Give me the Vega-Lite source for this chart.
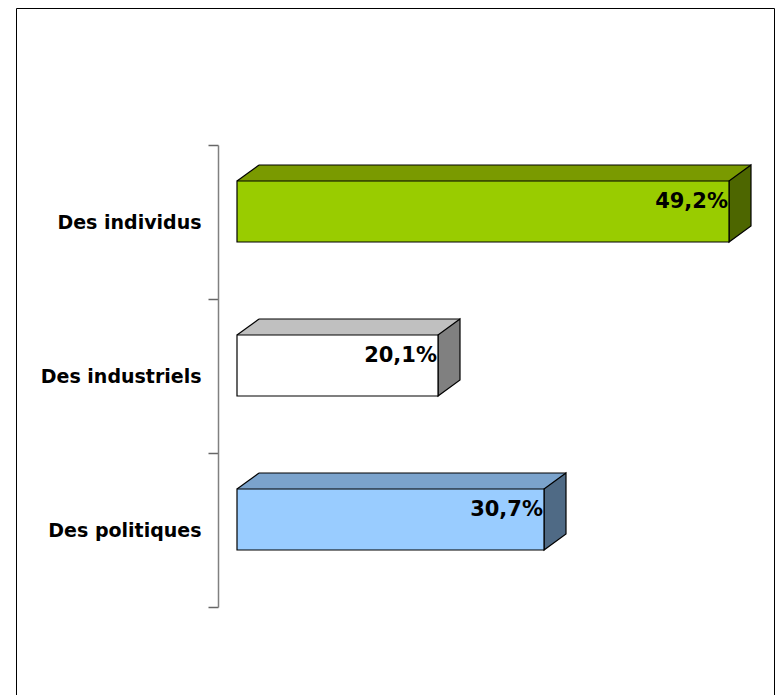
{
  "$schema": "https://vega.github.io/schema/vega-lite/v6.json",
  "width": 758,
  "height": 690,
  "autosize": {"type": "none"},
  "padding": {"left": 16, "top": 8, "right": 4, "bottom": 0},
  "background": "white",
  "config": {
    "view": {"stroke": "black", "strokeWidth": 1},
    "font": "DejaVu Sans"
  },
  "data": {
    "values": [
      {"cat": "Des individus", "value": 49.2, "label": "49,2%"},
      {"cat": "Des industriels", "value": 20.1, "label": "20,1%"},
      {"cat": "Des politiques", "value": 30.7, "label": "30,7%"}
    ]
  },
  "encoding": {
    "y": {
      "field": "cat",
      "type": "nominal",
      "sort": null,
      "scale": {"paddingInner": 0, "paddingOuter": 0.74026, "align": 0.6009},
      "axis": {
        "title": null,
        "orient": "left",
        "offset": -202,
        "tickBand": "extent",
        "domainColor": "#808080",
        "domainWidth": 1.5,
        "domainDash": [0, 137, 462, 1000],
        "tickColor": "#666666",
        "tickWidth": 1.5,
        "tickSize": 10,
        "labelFont": "DejaVu Sans",
        "labelFontSize": 19,
        "labelFontWeight": "bold",
        "labelColor": "black",
        "labelPadding": 7
      }
    }
  },
  "layer": [
    {
      "mark": {"type": "point", "shape": "M0,-41L23,-41L23,-57L22,-57Z", "size": 4, "filled": true, "opacity": 1, "strokeWidth": 0},
      "encoding": {
        "x": {"datum": 0, "type": "quantitative", "scale": {"domain": [-22.1, 53.7], "nice": false, "zero": false}, "axis": null},
        "fill": {"field": "cat", "type": "nominal", "scale": {"domain": ["Des individus", "Des industriels", "Des politiques"], "range": ["#7A9A00", "#C0C0C0", "#7BA3CC"]}, "legend": null}
      }
    },
    {
      "mark": {"type": "bar", "height": 16, "yOffset": -49, "xOffset": 22, "x2Offset": 22, "strokeWidth": 0},
      "encoding": {
        "x": {"field": "value", "type": "quantitative"},
        "x2": {"datum": 0},
        "fill": {"field": "cat", "type": "nominal", "scale": {"domain": ["Des individus", "Des industriels", "Des politiques"], "range": ["#7A9A00", "#C0C0C0", "#7BA3CC"]}, "legend": null}
      }
    },
    {
      "mark": {"type": "rule", "yOffset": -57, "xOffset": 22, "x2Offset": 22, "color": "black", "strokeWidth": 1.2},
      "encoding": {
        "x": {"field": "value", "type": "quantitative"},
        "x2": {"datum": 0}
      }
    },
    {
      "mark": {"type": "point", "shape": "M0,-41L22,-57", "size": 4, "filled": false, "opacity": 1, "stroke": "black", "strokeWidth": 1.2},
      "encoding": {
        "x": {"datum": 0, "type": "quantitative"}
      }
    },
    {
      "mark": {"type": "point", "shape": "M0,-41L22,-57L22,4L0,20Z", "size": 4, "filled": true, "opacity": 1, "stroke": "black", "strokeWidth": 1.2},
      "encoding": {
        "x": {"field": "value", "type": "quantitative"},
        "fill": {"field": "cat", "type": "nominal", "scale": {"domain": ["Des individus", "Des industriels", "Des politiques"], "range": ["#4D6600", "#808080", "#4F6A85"]}, "legend": null}
      }
    },
    {
      "mark": {"type": "bar", "height": 61, "yOffset": -10.5, "stroke": "black", "strokeWidth": 1.2},
      "encoding": {
        "x": {"field": "value", "type": "quantitative"},
        "x2": {"datum": 0},
        "fill": {"field": "cat", "type": "nominal", "scale": {"domain": ["Des individus", "Des industriels", "Des politiques"], "range": ["#99CC00", "#FFFFFF", "#99CCFF"]}, "legend": null}
      }
    },
    {
      "mark": {"type": "text", "align": "right", "baseline": "middle", "yOffset": -20, "dx": -1, "font": "DejaVu Sans", "fontSize": 21, "fontWeight": "bold", "color": "black"},
      "encoding": {
        "x": {"field": "value", "type": "quantitative"},
        "text": {"field": "label"}
      }
    }
  ],
  "resolve": {"scale": {"fill": "independent"}}
}
